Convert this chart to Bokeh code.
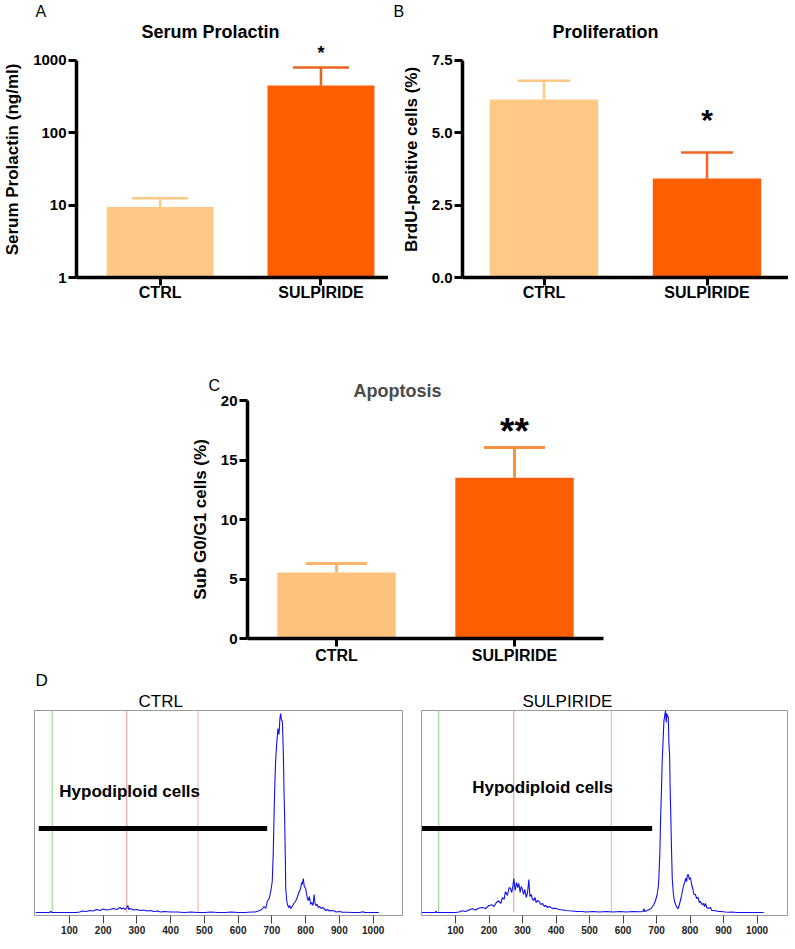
from bokeh.plotting import figure
from bokeh.models import (ColumnDataSource, Whisker, TeeHead, Label, FixedTicker,
                          NumeralTickFormatter, Range1d, Spacer, Title)
from bokeh.layouts import row, column
from bokeh.embed import file_html
from bokeh.resources import INLINE

FONT = "Liberation Sans"

# ---------------- data ----------------
groups = ["CTRL", "SULPIRIDE"]

prolactin_mean = [9.4, 450.0]      # ng/ml
prolactin_sem = [3.1, 350.0]
prolactin_ticks = [1, 10, 100, 1000]

brdu_mean = [6.15, 3.42]           # %
brdu_sem = [0.65, 0.90]
brdu_ticks = [0.0, 2.5, 5.0, 7.5]

subg1_mean = [5.55, 13.5]          # %
subg1_sem = [0.75, 2.55]
subg1_ticks = [0, 5, 10, 15, 20]

hist_ticks = [100, 200, 300, 400, 500, 600, 700, 800, 900, 1000]

ctrl_channel = [
    0, 10, 20, 30, 40, 45, 48, 60, 80, 100,
    120, 130, 140, 150, 160, 170, 180, 190, 200, 210,
    220, 230, 240, 250, 255, 260, 265, 270, 273, 276,
    280, 290, 300, 310, 320, 330, 340, 350, 360, 370,
    380, 400, 420, 440, 460, 480, 500, 520, 540, 560,
    580, 600, 620, 640, 650, 660, 670, 677, 682, 686,
    692, 697, 701, 704, 706, 708, 711, 714, 718, 721,
    724, 726, 728, 731, 734, 736, 738, 740, 741, 744,
    746, 750, 753, 756, 760, 765, 770, 775, 780, 785,
    788, 790, 793, 796, 800, 803, 805, 808, 811, 815,
    818, 822, 825, 828, 831, 834, 838, 842, 846, 850,
    854, 860, 865, 870, 875, 884, 890, 900, 910, 923,
    940, 960, 970, 975, 1000, 1017]
ctrl_count = [
    0, 0, 0, 0, 0, 1, 0, 0, 0, 0,
    0, 0.5, 1.5, 1, 2, 1.5, 3, 2, 3.5, 2.5,
    3, 4, 3, 5, 3.5, 4.5, 3, 5, 7, 3,
    4, 2.5, 3, 2, 2.5, 1.5, 2, 1, 1.5, 0.5,
    1, 0.5, 0.5, 0, 0.5, 0, 0, 0.5, 0, 0,
    0.5, 0, 0, 0.5, 0.5, 1.5, 3, 6, 4, 11,
    14, 22, 31, 60, 91, 120, 151, 168, 184, 178,
    195, 199, 193, 191, 158, 120, 91, 50, 24, 12,
    8, 5, 7, 4, 6, 9, 11, 15, 20, 24,
    30, 28, 34, 26, 24, 18, 14, 12, 16, 8,
    10, 7, 18, 9, 7, 8, 5, 6, 4, 5,
    4, 2, 3, 1.5, 2, 1.7, 0.5, 1, 0.3, 0.3,
    0, 0, 0.8, 0, 0, 0]

sulp_channel = [
    0, 20, 40, 41, 44, 60, 80, 100, 110, 120,
    130, 140, 150, 160, 170, 180, 190, 200, 209, 215,
    222, 229, 235, 240, 245, 249, 255, 260, 264, 268,
    272, 274, 278, 282, 286, 289, 293, 296, 299, 303,
    307, 311, 315, 319, 322, 326, 329, 333, 337, 341,
    345, 349, 355, 360, 365, 369, 375, 380, 390, 398,
    410, 420, 430, 438, 450, 460, 478, 490, 510, 530,
    550, 570, 590, 610, 630, 650, 660, 662, 665, 672,
    677, 684, 692, 697, 702, 705, 707, 710, 712, 715,
    717, 720, 722, 725, 727, 729, 731, 733, 735, 737,
    739, 741, 743, 745, 747, 750, 753, 757, 761, 765,
    769, 773, 777, 781, 784, 787, 790, 792, 795, 798,
    801, 805, 808, 812, 816, 820, 824, 828, 831, 835,
    840, 843, 846, 850, 855, 861, 865, 870, 876, 885,
    895, 905, 916, 925, 940, 960, 1000, 1020]
sulp_count = [
    0, 0, 0, 1.5, 0, 0, 0, 0, 0.5, 1.7,
    1, 2.5, 3.7, 2.5, 4.5, 5, 4, 7, 7.7, 6,
    10, 11.7, 9, 15, 13, 21, 17, 25, 24, 20,
    28, 34, 22, 30, 25, 29, 20, 26, 24, 18,
    23, 15, 20, 33, 16, 18, 14, 12, 15, 10,
    12, 11, 8, 9, 6, 7, 5, 6, 4, 4.3,
    3, 2.5, 2, 1.7, 1.5, 1, 1, 0.5, 1, 0.5,
    1, 0.5, 1, 0.5, 1, 0.7, 1, 3.7, 1, 2,
    2.7, 4, 8, 12, 18, 25, 34, 60, 91, 125,
    151, 175, 191, 198, 202, 190, 199, 196, 196, 170,
    158, 120, 91, 60, 34, 20, 12, 8, 5, 4,
    9, 14, 21, 27, 30, 34, 31, 37, 38, 33,
    35, 28, 24, 18, 18, 14, 15, 10, 11, 8,
    9, 6, 9, 5, 4, 5, 2, 2, 1.7, 1,
    1, 0.5, 0.3, 0.5, 0, 0, 0, 0]

ctrl_gates = [49, 270, 481]
sulp_gates = [50, 274, 565]
gate_colors = ["#86d886", "#e49494", "#f0a9a9"]
ctrl_marker = [9, 686]
sulp_marker = [0, 687]
marker_level = 84
hist_top = 202

positions = [i + 0.5 for i in range(len(groups))]
label_map = {pos: g for pos, g in zip(positions, groups)}


# ---------------- helpers ----------------
def add_title(p, text, offset, size, style, color="black", standoff=0):
    p.add_layout(Title(text=text, align="left", offset=offset, text_font=FONT,
                       text_font_size=size, text_font_style=style, text_color=color,
                       standoff=standoff), "above")


def star(p, text, size, y):
    p.add_layout(Label(x=positions[groups.index("SULPIRIDE")], y=y,
                       x_units="data", y_units="screen",
                       text=text, text_font=FONT, text_font_size=size, text_font_style="bold",
                       text_align="center", text_baseline="alphabetic", text_color="black"))


def bar_panel(width, height, b_left, b_right, b_top, b_bottom, x_range, y_range, y_type,
              means, sems, bar_cols, err_cols, err_w, cap, ticks, fmt, ylabel, xstandoff):
    p = figure(width=width, height=height, x_range=x_range,
               y_range=y_range, y_axis_type=y_type, title=None,
               output_backend="svg", toolbar_location=None,
               min_border_left=b_left, min_border_right=b_right,
               min_border_top=b_top, min_border_bottom=b_bottom)
    src = ColumnDataSource(dict(x=positions, top=means, color=bar_cols))
    p.vbar(x="x", top="top", bottom=ticks[0], width=0.665,
           fill_color="color", line_color=None, source=src)
    for x, m, s, c in zip(positions, means, sems, err_cols):
        wsrc = ColumnDataSource(dict(x=[x], lo=[m], hi=[m + s]))
        p.add_layout(Whisker(source=wsrc, base="x", lower="lo", upper="hi",
                             line_color=c, line_width=err_w,
                             upper_head=TeeHead(size=cap, line_color=c, line_width=err_w),
                             lower_head=None))
    p.xgrid.visible = False
    p.ygrid.visible = False
    p.outline_line_color = None
    p.xaxis.ticker = FixedTicker(ticks=positions)
    p.xaxis.major_label_overrides = label_map
    p.yaxis.ticker = FixedTicker(ticks=ticks)
    p.yaxis.formatter = NumeralTickFormatter(format=fmt)
    p.yaxis.bounds = (ticks[0], ticks[-1])
    for ax in list(p.xaxis) + list(p.yaxis):
        ax.axis_line_width = 3.5
        ax.axis_line_color = "black"
        ax.major_tick_line_width = 3
        ax.major_tick_line_color = "black"
        ax.major_tick_in = 0
        ax.major_tick_out = 8
        ax.minor_tick_line_color = None
        ax.major_label_text_font = FONT
        ax.major_label_text_font_style = "bold"
        ax.major_label_text_color = "black"
    p.xaxis.major_label_text_font_size = "16px"
    p.yaxis.major_label_text_font_size = "15px"
    p.xaxis.major_label_standoff = xstandoff
    p.yaxis.major_label_standoff = 2
    p.yaxis.axis_label = ylabel
    p.yaxis.axis_label_text_font = FONT
    p.yaxis.axis_label_text_font_style = "bold"
    p.yaxis.axis_label_text_font_size = "17px"
    p.yaxis.axis_label_text_color = "black"
    p.yaxis.axis_label_standoff = 8
    return p


def hist_panel(width, b_left, b_right, x_start, x_end, chans, counts, gates, marker):
    y_range = Range1d(-3, hist_top)
    p = figure(width=width, height=274, x_range=Range1d(x_start, x_end), y_range=y_range,
               title=None, output_backend="svg", toolbar_location=None,
               min_border_left=b_left, min_border_right=b_right,
               min_border_top=44, min_border_bottom=25)
    p.segment(x0=gates, y0=[0] * len(gates), x1=gates, y1=[hist_top] * len(gates),
              line_color=gate_colors, line_width=1)
    p.line(chans, counts, line_color="#1010ee", line_width=1.1)
    p.segment(x0=[marker[0]], y0=[marker_level], x1=[marker[1]], y1=[marker_level],
              line_color="black", line_width=5)
    p.xgrid.visible = False
    p.ygrid.visible = False
    p.yaxis.visible = False
    p.outline_line_color = "#9a9a9a"
    p.outline_line_width = 1
    ax = p.xaxis[0]
    ax.ticker = FixedTicker(ticks=hist_ticks)
    ax.axis_line_color = None
    ax.major_tick_in = 0
    ax.major_tick_out = 8
    ax.major_tick_line_color = "#444444"
    ax.major_tick_line_width = 1
    ax.minor_tick_line_color = None
    ax.major_label_text_font = FONT
    ax.major_label_text_font_style = "bold"
    ax.major_label_text_font_size = "10px"
    ax.major_label_text_color = "#222222"
    ax.major_label_standoff = 2
    return p


def hypo_label(p, x, y):
    p.add_layout(Label(x=x, y=y, text="Hypodiploid cells", text_font=FONT,
                       text_font_size="17px", text_font_style="bold",
                       text_baseline="middle", text_color="black"))


# frame geometry of the top row (pixels from the figure top)
TOP_FRAME = 40          # frame top
TICK_TOP = 59           # pixel of highest tick
AXIS_Y = 277            # pixel of x axis

# ---------------- panel A ----------------
decade_px = (AXIS_Y - TICK_TOP) / 3.0
a_end = prolactin_ticks[-1] * 10 ** ((TICK_TOP - TOP_FRAME) / decade_px)
pA = bar_panel(388, 306, 72, 0, TOP_FRAME, 29, Range1d(-0.02, 1.92),
               Range1d(prolactin_ticks[0], a_end), "log",
               prolactin_mean, prolactin_sem, ["#ffc985", "#ff5e00"],
               ["#ffc985", "#e8641e"], 2.5, 56, prolactin_ticks, "0",
               "Serum Prolactin (ng/ml)", -2)
add_title(pA, "Serum Prolactin", 65, "18px", "bold")
add_title(pA, "A", -41, "16px", "normal")
star(pA, "*", "18px", 225)

# ---------------- panel B ----------------
b_end = brdu_ticks[-1] * (AXIS_Y - TOP_FRAME) / (AXIS_Y - TICK_TOP)
pB = bar_panel(400, 306, 74, 0, TOP_FRAME, 29, Range1d(0, 2),
               Range1d(brdu_ticks[0], b_end), "linear",
               brdu_mean, brdu_sem, ["#ffc985", "#ff5e00"],
               ["#ffc985", "#f26522"], 2.5, 52, brdu_ticks, "0.0",
               "BrdU-positive cells (%)", -2)
add_title(pB, "Proliferation", 90, "18px", "bold")
add_title(pB, "B", -69, "16px", "normal")
star(pB, "*", "30px", 158)

# ---------------- panel C ----------------
pC = bar_panel(423, 360, 62, 5, 94, 28, Range1d(0, 2),
               Range1d(subg1_ticks[0], subg1_ticks[-1]), "linear",
               subg1_mean, subg1_sem, ["#ffc27d", "#ff5f00"],
               ["#fdb56a", "#f7923a"], 3, 61, subg1_ticks, "0",
               "Sub G0/G1 cells (%)", 0)
add_title(pC, "Apoptosis", 106, "18px", "bold", color="#4a4a4a")
add_title(pC, "C", -39, "16px", "normal", standoff=-31)
star(pC, "**", "37px", 207)

# ---------------- panel D ----------------
pD1 = hist_panel(410, 34, 8, -3.5, 1087, ctrl_channel, ctrl_count, ctrl_gates, ctrl_marker)
add_title(pD1, "CTRL", 104, "17px", "normal")
add_title(pD1, "D", 1, "17px", "normal")
hypo_label(pD1, 70, 121)

pD2 = hist_panel(379, 11, 2, -1.5, 1091, sulp_channel, sulp_count, sulp_gates, sulp_marker)
add_title(pD2, "SULPIRIDE", 101, "17px", "normal")
hypo_label(pD2, 150, 125)

layout = column(row(pA, pB), row(Spacer(width=185, height=360), pC), row(pD1, pD2))

with open("out.html", "w") as f:
    f.write(file_html(layout, INLINE))
